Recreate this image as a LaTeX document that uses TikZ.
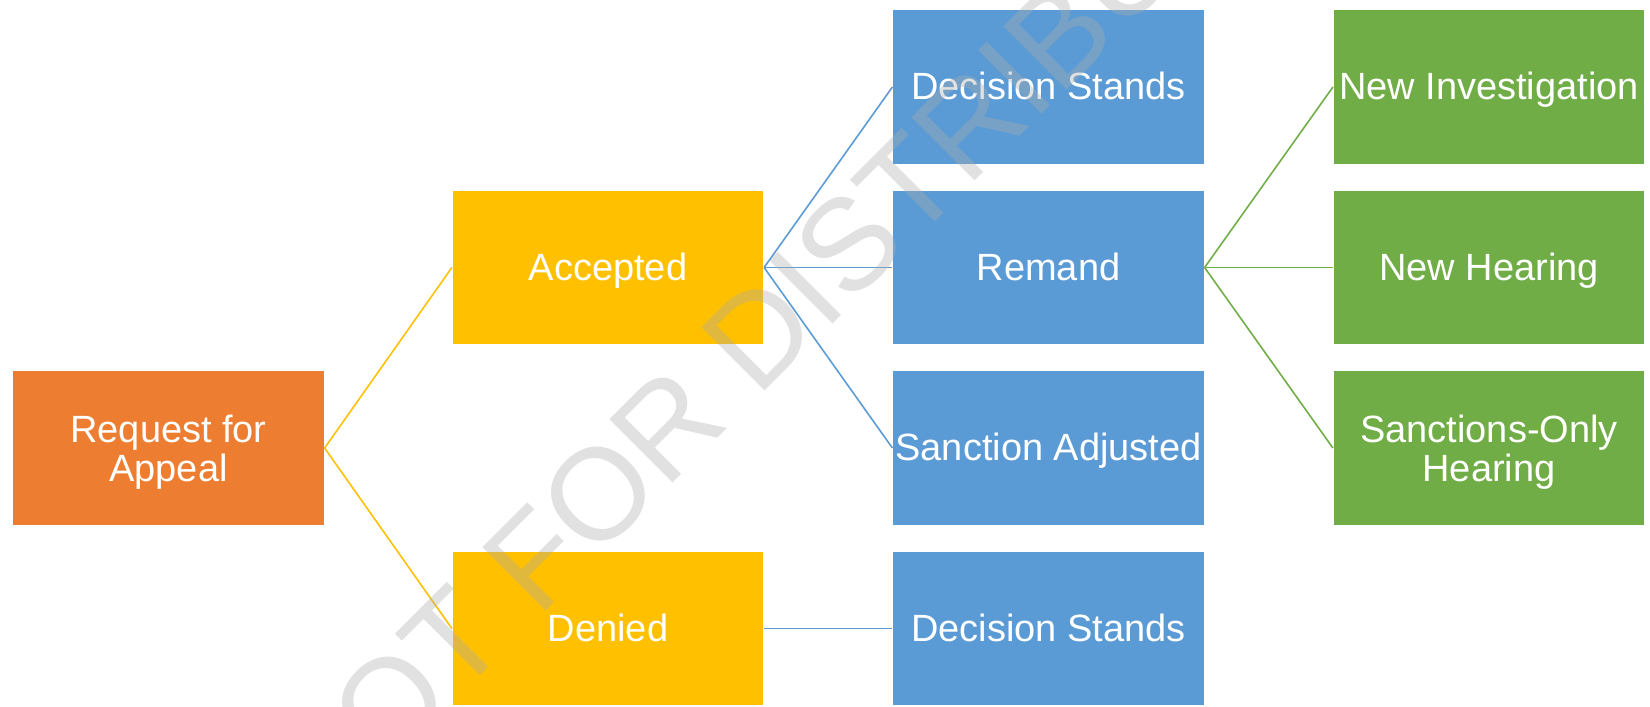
\documentclass[tikz,border=0pt]{standalone}
\usepackage{fontspec}
\setmainfont{Liberation Sans}
\definecolor{cOrange}{RGB}{237,125,49}
\definecolor{cYellow}{RGB}{255,192,0}
\definecolor{cBlue}{RGB}{91,155,213}
\definecolor{cGreen}{RGB}{112,173,71}
\definecolor{cWm}{RGB}{172,172,172}
\tikzset{
  box/.style={rectangle, minimum width=31.15mm, minimum height=15.45mm, inner sep=0pt,
    text=white, align=center, font=\fontsize{10.8}{11}\selectfont, draw=white, line width=0.2pt},
  one/.style={text height=0.73em, text depth=0pt},
  two/.style={text depth=0pt},
  obox/.style={box, fill=cOrange},
  ybox/.style={box, fill=cYellow},
  bbox/.style={box, fill=cBlue},
  gbox/.style={box, fill=cGreen},
  link/.style={line width=0.45pt},
  wmark/.style={rotate=45, text=cWm, opacity=0.36, inner sep=0pt, font=\fontsize{37}{37}\selectfont}
}
\begin{document}
\begin{tikzpicture}[x=0.1mm,y=-0.1mm]
\useasboundingbox (0,0) rectangle (1650,706);
% column 1
\node[obox, two] (req) at (168.5,448) {Request for\\Appeal};
% column 2
\node[ybox, one] (acc) at (608,267.5) {Accepted};
\node[ybox, one] (den) at (608,628.5) {Denied};
% column 3
\node[bbox, one] (ds1) at (1048.5,87) {Decision Stands};
\node[bbox, one] (rem) at (1048.5,267.5) {Remand};
\node[bbox, one] (sadj) at (1048.5,448) {Sanction Adjusted};
\node[bbox, one] (ds2) at (1048.5,628.5) {Decision Stands};
% column 4
\node[gbox, one] (ninv) at (1489,87) {New Investigation};
\node[gbox, one] (nhear) at (1489,267.5) {New Hearing};
\node[gbox, two] (soh) at (1489,448) {Sanctions-Only\\Hearing};
% connectors
\draw[link, cYellow] (req.east) -- (acc.west);
\draw[link, cYellow] (req.east) -- (den.west);
\draw[link, cBlue] (acc.east) -- (ds1.west);
\draw[link, cBlue] (acc.east) -- (rem.west);
\draw[link, cBlue] (acc.east) -- (sadj.west);
\draw[link, cBlue] (den.east) -- (ds2.west);
\draw[link, cGreen] (rem.east) -- (ninv.west);
\draw[link, cGreen] (rem.east) -- (nhear.west);
\draw[link, cGreen] (rem.east) -- (soh.west);
% watermark
\node[wmark] (wm) at (831,262) {NOT FOR DISTRIBUTION};
\end{tikzpicture}
\end{document}
